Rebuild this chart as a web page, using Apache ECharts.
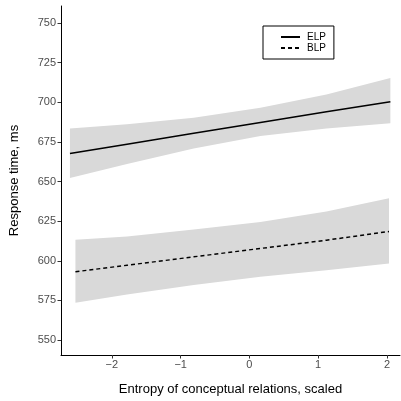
<!DOCTYPE html>
<html>
<head>
<meta charset="utf-8">
<script src="https://cdn.jsdelivr.net/npm/echarts@6/dist/echarts.min.js"></script>
<style>
  html, body { margin: 0; padding: 0; background: #fff; }
  #chart { width: 401px; height: 401px; }
</style>
</head>
<body>
<div id="chart"></div>
<script>
// values
const elpX = [-2.61, -1.78, -0.81, 0.16, 1.12, 2.05];
const elpFit = [667.7, 673.5, 680.4, 687.2, 694.0, 700.3];
const elpLower = [652.2, 661.0, 670.8, 678.7, 683.4, 686.7];
const elpUpper = [683.4, 686.1, 690.2, 696.5, 704.9, 715.3];

const blpX = [-2.53, -1.78, -0.81, 0.16, 1.12, 2.03];
const blpFit = [593.1, 597.2, 602.5, 607.8, 613.0, 618.5];
const blpLower = [573.6, 578.8, 584.7, 589.9, 594.1, 598.3];
const blpUpper = [613.3, 615.4, 619.8, 624.4, 631.1, 639.5];

const xTicks = [-2, -1, 0, 1, 2];
const yTicks = [550, 575, 600, 625, 650, 675, 700, 725, 750];

const pairs = (xs, ys) => xs.map((x, i) => [x, ys[i]]);

const bandColor = "#d9d9d9";
const labelStyle = { color: "#4d4d4d", fontSize: 11, fontFamily: "Liberation Sans" };

// confidence ribbon as one polygon, positioned through the axes
const bandSeries = (name, xs, lo, hi) => ({
  name: name,
  type: "custom",
  silent: true,
  data: xs.map((x, i) => [x, lo[i], hi[i]]),
  encode: { x: 0, y: [1, 2] },
  renderItem: (params, api) => {
    if (params.dataIndex !== 0) return;
    const top = xs.map((x, i) => api.coord([x, hi[i]]));
    const bottom = xs.map((x, i) => api.coord([x, lo[i]])).reverse();
    return {
      type: "polygon",
      shape: { points: top.concat(bottom) },
      style: { fill: bandColor }
    };
  }
});

const chart = echarts.init(document.getElementById("chart"));
chart.setOption({
  animation: false,
  grid: { left: 60, right: 1, top: 6, bottom: 44 },
  legend: {
    data: ["ELP", "BLP"],
    orient: "vertical",
    left: 263,
    top: 26,
    padding: [6, 8, 6, 17],
    itemGap: 1,
    itemWidth: 19,
    itemHeight: 10,
    itemStyle: { opacity: 0 },
    borderColor: "#000",
    borderWidth: 1,
    textStyle: { color: "#000", fontSize: 10, fontFamily: "Liberation Sans", padding: [0, 0, 0, 2] }
  },
  xAxis: {
    type: "value",
    min: -2.74,
    max: 2.19,
    name: "Entropy of conceptual relations, scaled",
    nameLocation: "middle",
    nameGap: 28,
    nameTextStyle: { color: "#000", fontSize: 13, fontFamily: "Liberation Sans" },
    axisLine: { show: true, onZero: false, lineStyle: { color: "#000", width: 1 } },
    axisTick: { show: true, length: 3.5, customValues: xTicks, lineStyle: { color: "#333" } },
    axisLabel: {
      ...labelStyle,
      margin: 4,
      customValues: xTicks,
      formatter: v => String(v).replace("-", "\u2212")
    },
    splitLine: { show: false }
  },
  yAxis: {
    type: "value",
    min: 540.6,
    max: 760.7,
    name: "Response time, ms",
    nameLocation: "middle",
    nameGap: 40,
    nameTextStyle: { color: "#000", fontSize: 13, fontFamily: "Liberation Sans" },
    axisLine: { show: true, onZero: false, lineStyle: { color: "#000", width: 1 } },
    axisTick: { show: true, length: 3.5, customValues: yTicks, lineStyle: { color: "#333" } },
    axisLabel: { ...labelStyle, margin: 5, customValues: yTicks },
    splitLine: { show: false }
  },
  series: [
    bandSeries("elp_band", elpX, elpLower, elpUpper),
    bandSeries("blp_band", blpX, blpLower, blpUpper),
    {
      name: "ELP",
      type: "line",
      data: pairs(elpX, elpFit),
      symbol: "none",
      color: "#000",
      lineStyle: { color: "#000", width: 1.5 }
    },
    {
      name: "BLP",
      type: "line",
      data: pairs(blpX, blpFit),
      symbol: "none",
      color: "#000",
      lineStyle: { color: "#000", width: 1.5, type: [4, 3] }
    }
  ]
});
</script>
</body>
</html>
